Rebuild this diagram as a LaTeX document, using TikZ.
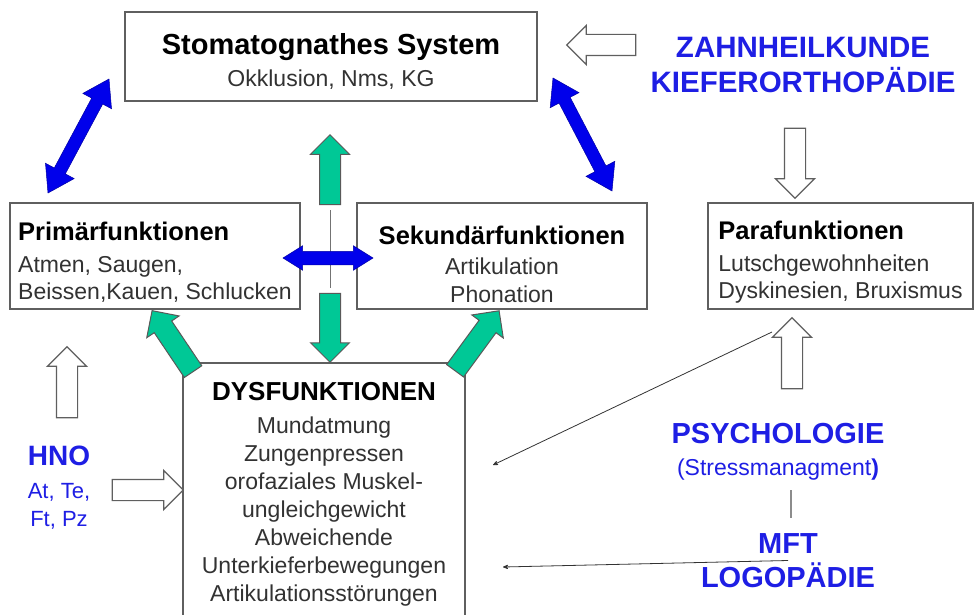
\documentclass[tikz,border=0pt]{standalone}
\usepackage{fontspec}
\setmainfont{Liberation Sans}
\usetikzlibrary{arrows,calc,shapes.arrows}
\definecolor{fgblue}{RGB}{30,30,228}
\definecolor{arblue}{RGB}{0,0,235}
\definecolor{argreen}{RGB}{0,200,150}
\definecolor{boxgray}{RGB}{95,95,95}
\definecolor{subgray}{RGB}{50,50,50}
\tikzstyle{fct}=[draw=boxgray,line width=1.5pt,inner sep=0pt,text=subgray,font=\fontsize{23}{27.5}\selectfont]
\tikzstyle{dept}=[text=fgblue,align=center,font=\fontsize{29.5}{35}\selectfont\bfseries]
\tikzstyle{warr}=[single arrow,draw=boxgray,fill=white,line width=1.2pt,inner xsep=0pt,inner ysep=10pt,single arrow head extend=9pt,single arrow tip angle=90,single arrow head indent=0pt]
\tikzstyle{garr}=[warr,fill=argreen,draw=black!65,line width=1pt]
\tikzstyle{barr}=[double arrow,fill=arblue,draw=arblue!70!black,line width=0.5pt,inner xsep=0pt,inner ysep=6pt,double arrow head extend=10pt,double arrow tip angle=66]
\tikzstyle{lnarr}=[->,>=stealth',draw=black!80,line width=0.8pt]
% block arrow from #2 to #3, style #1
\newcommand{\blkarr}[3]{%
  \path let \p1=(#2), \p2=(#3), \n1={atan2(\y2-\y1,\x2-\x1)}, \n2={veclen(\x2-\x1,\y2-\y1)} in
    node[#1,rotate=\n1,minimum height=\n2] at ($(#2)!0.5!(#3)$) {};}
% heading line: size, strut height, text
\newcommand{\fhead}[3]{{\color{black}\fontsize{#1}{#1}\selectfont\bfseries\rule{0pt}{#2}#3}}

\begin{document}
\begin{tikzpicture}[x=1pt,y=-1pt]
    \useasboundingbox (0,0) rectangle (975,615);
    % boxes
    \node[fct,minimum width=412pt,minimum height=89pt,align=center,font=\fontsize{23}{32}\selectfont] (SS) at (331,56.5)
      {\fhead{29}{30pt}{Stomatognathes System}\\Okklusion, Nms, KG};
    \node[fct,minimum width=290pt,minimum height=106pt,align=left] (PF) at (155,256)
      {\fhead{25.5}{31pt}{Primärfunktionen}\\[4.5pt]Atmen, Saugen,\\Beissen,Kauen, Schlucken};
    \node[fct,minimum width=290pt,minimum height=106pt,align=center] (SF) at (502,256)
      {\fhead{25.5}{35pt}{Sekundärfunktionen}\\[3pt]Artikulation\\Phonation};
    \node[fct,minimum width=265pt,minimum height=106pt,align=left] (PAF) at (840.5,256)
      {\fhead{25.5}{31pt}{Parafunktionen}\\[4.5pt]Lutschgewohnheiten\\Dyskinesien, Bruxismus};
    \node[fct,anchor=north,minimum width=282pt,minimum height=262pt,align=center,font=\fontsize{23}{28}\selectfont] (DF) at (324,362)
      {\fhead{26}{19pt}{DYSFUNKTIONEN}\\[5pt]Mundatmung\\Zungenpressen\\orofaziales Muskel-\\ungleichgewicht\\Abweichende\\Unterkieferbewegungen\\Artikulationsstörungen};
    % disciplines
    \node[dept] (ZK) at (803,65) {ZAHNHEILKUNDE\\KIEFERORTHOPÄDIE};
    \node[dept,font=\fontsize{22}{28}\selectfont] (HNO) at (59,488)
      {{\fontsize{28}{28}\selectfont\bfseries HNO}\\[5pt]At, Te,\\Ft, Pz};
    \node[dept,font=\fontsize{23}{32}\selectfont] (PSY) at (778,452)
      {{\fontsize{29}{32}\selectfont\bfseries PSYCHOLOGIE}\\(Stressmanagment\textbf{)}};
    \node[dept,font=\fontsize{29}{34}\selectfont\bfseries] (MFT) at (788,560.5) {MFT\\LOGOPÄDIE};
    % arrow ends
    \coordinate (b1a) at (48,193);  \coordinate (b1b) at (109,79);
    \coordinate (b2a) at (553,78);  \coordinate (b2b) at (612,191);
    \coordinate (b3a) at (283,258); \coordinate (b3b) at (373,258);
    \coordinate (g1a) at (330,210); \coordinate (g1b) at (330,140);
    \coordinate (g2a) at (330,288); \coordinate (g2b) at (330,357);
    \coordinate (g3a) at (196,376); \coordinate (g3b) at (155,315);
    \coordinate (g4a) at (452,375); \coordinate (g4b) at (496,315);
    \coordinate (w1a) at (641,45);  \coordinate (w1b) at (572,45);
    \coordinate (w2a) at (795,123); \coordinate (w2b) at (795,193);
    \coordinate (w3a) at (67,423);  \coordinate (w3b) at (67,352);
    \coordinate (w4a) at (107,490); \coordinate (w4b) at (178,490);
    \coordinate (w5a) at (792,394); \coordinate (w5b) at (792,323);
    \coordinate (p1a) at (772,332); \coordinate (p1b) at (493,465);
    \coordinate (m1b) at (503,567);
    \coordinate (l1a) at (791,490); \coordinate (l1b) at (791,518);
    % white arrows
    \blkarr{warr}{w1a}{w1b}
    \blkarr{warr}{w2a}{w2b}
    \blkarr{warr}{w3a}{w3b}
    \blkarr{warr}{w4a}{w4b}
    \blkarr{warr}{w5a}{w5b}
    % green arrows
    \blkarr{garr}{g1a}{g1b}
    \blkarr{garr}{g2a}{g2b}
    \blkarr{garr}{g3a}{g3b}
    \blkarr{garr}{g4a}{g4b}
    \draw[black!55,line width=0.8pt] (g1a) -- (g2a);
    % blue arrows
    \blkarr{barr}{b1a}{b1b}
    \blkarr{barr}{b2a}{b2b}
    \blkarr{barr,inner ysep=6.5pt,double arrow head extend=5.5pt,double arrow tip angle=64}{b3a}{b3b}
    % thin arrows
    \draw[lnarr] (p1a) -- (p1b);
    \draw[lnarr] (MFT.center) -- (m1b);
    \draw[black!45,line width=1.5pt] (l1a) -- (l1b);
\end{tikzpicture}
\end{document}
